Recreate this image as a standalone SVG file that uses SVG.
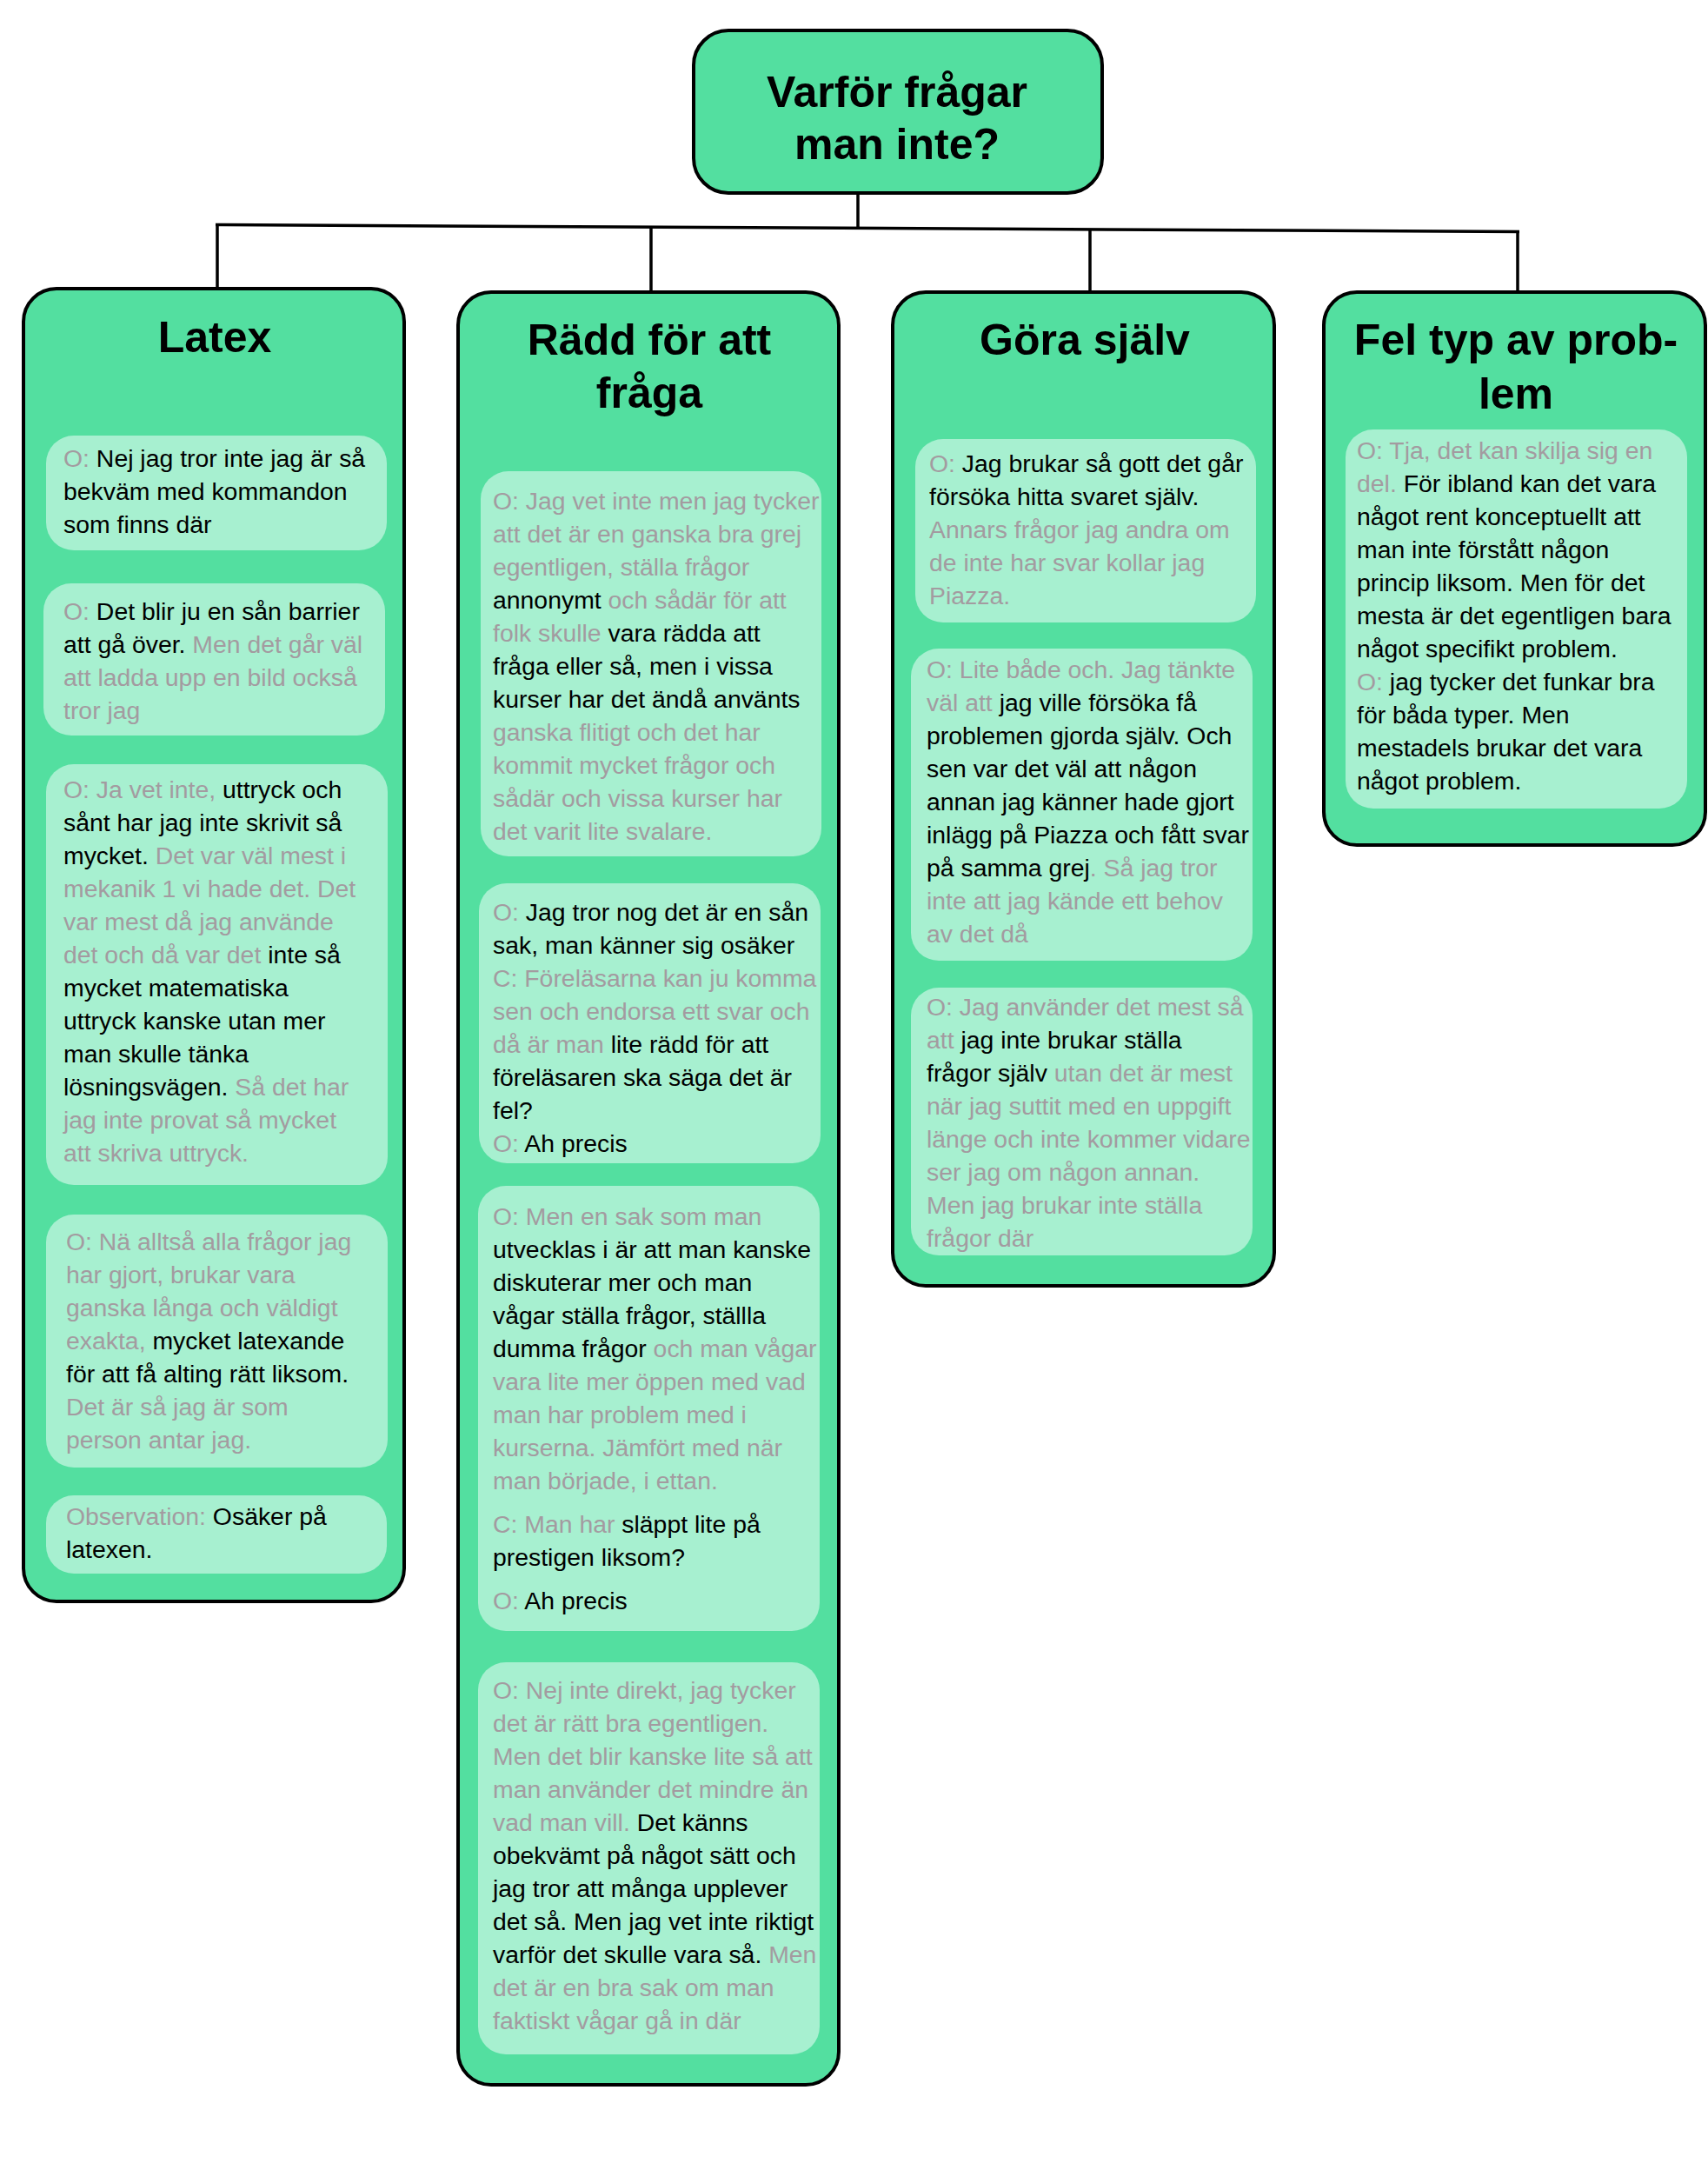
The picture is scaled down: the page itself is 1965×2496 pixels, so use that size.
<svg xmlns="http://www.w3.org/2000/svg" width="1965" height="2496" viewBox="0 0 1965 2496">
<style>
.box{fill:#53DFA0;stroke:#000;stroke-width:4}
.card{fill:#A7F0D0}
.title{font-family:'Liberation Sans',Arial,sans-serif;font-weight:bold;font-size:50px;text-anchor:middle;fill:#000}
.t{font-family:'Liberation Sans',Arial,sans-serif;font-size:28.4px;fill:#000}
.g{fill:#A39BA0}
.conn{stroke:#000;stroke-width:3.5;fill:none}
</style>
<rect width="1965" height="2496" fill="#fff"/>
<g id="connectors">
<line class="conn" x1="987" y1="222" x2="987" y2="262"/>
<line class="conn" x1="248" y1="258.5" x2="1748" y2="266.5"/>
<line class="conn" x1="250" y1="258.5" x2="250" y2="332"/>
<line class="conn" x1="749" y1="261" x2="749" y2="336"/>
<line class="conn" x1="1254" y1="264" x2="1254" y2="336"/>
<line class="conn" x1="1746" y1="266.5" x2="1746" y2="336"/>
</g>
<g id="root">
<rect class="box" x="798" y="35" width="470" height="187" rx="40"/>
<text class="title" x="1032" y="123">Varför frågar</text>
<text class="title" x="1032" y="183">man inte?</text>
</g>
<g id="latex">
<rect class="box" x="27" y="332" width="438" height="1510" rx="38"/>
<text class="title" x="247" y="405">Latex</text>
<rect class="card" x="53" y="501" width="392" height="132" rx="32"/>
<text class="t" x="73" y="537"><tspan class="g">O:</tspan> Nej jag tror inte jag är så</text>
<text class="t" x="73" y="575">bekväm med kommandon</text>
<text class="t" x="73" y="613">som finns där</text>
<rect class="card" x="50" y="671" width="393" height="175" rx="32"/>
<text class="t" x="73" y="713"><tspan class="g">O:</tspan> Det blir ju en sån barrier</text>
<text class="t" x="73" y="751">att gå över.<tspan class="g"> Men det går väl</tspan></text>
<text class="t g" x="73" y="789">att ladda upp en bild också</text>
<text class="t g" x="73" y="827">tror jag</text>
<rect class="card" x="53" y="879" width="393" height="484" rx="32"/>
<text class="t" x="73" y="918"><tspan class="g">O: Ja vet inte,</tspan> uttryck och</text>
<text class="t" x="73" y="956">sånt har jag inte skrivit så</text>
<text class="t" x="73" y="994">mycket.<tspan class="g"> Det var väl mest i</tspan></text>
<text class="t g" x="73" y="1032">mekanik 1 vi hade det. Det</text>
<text class="t g" x="73" y="1070">var mest då jag använde</text>
<text class="t" x="73" y="1108"><tspan class="g">det och då var det</tspan> inte så</text>
<text class="t" x="73" y="1146">mycket matematiska</text>
<text class="t" x="73" y="1184">uttryck kanske utan mer</text>
<text class="t" x="73" y="1222">man skulle tänka</text>
<text class="t" x="73" y="1260">lösningsvägen.<tspan class="g"> Så det har</tspan></text>
<text class="t g" x="73" y="1298">jag inte provat så mycket</text>
<text class="t g" x="73" y="1336">att skriva uttryck.</text>
<rect class="card" x="53" y="1397" width="393" height="291" rx="32"/>
<text class="t g" x="76" y="1438">O: Nä alltså alla frågor jag</text>
<text class="t g" x="76" y="1476">har gjort, brukar vara</text>
<text class="t g" x="76" y="1514">ganska långa och väldigt</text>
<text class="t" x="76" y="1552"><tspan class="g">exakta,</tspan> mycket latexande</text>
<text class="t" x="76" y="1590">för att få alting rätt liksom.</text>
<text class="t g" x="76" y="1628">Det är så jag är som</text>
<text class="t g" x="76" y="1666">person antar jag.</text>
<rect class="card" x="53" y="1720" width="392" height="90" rx="32"/>
<text class="t" x="76" y="1754"><tspan class="g">Observation:</tspan> Osäker på</text>
<text class="t" x="76" y="1792">latexen.</text>
</g>
<g id="radd">
<rect class="box" x="527" y="336" width="438" height="2062" rx="38"/>
<text class="title" x="747" y="408">Rädd för att</text>
<text class="title" x="747" y="469">fråga</text>
<rect class="card" x="553" y="542" width="392" height="443" rx="32"/>
<text class="t g" x="567" y="586">O: Jag vet inte men jag tycker</text>
<text class="t g" x="567" y="624">att det är en ganska bra grej</text>
<text class="t g" x="567" y="662">egentligen, ställa frågor</text>
<text class="t" x="567" y="700">annonymt<tspan class="g"> och sådär för att</tspan></text>
<text class="t" x="567" y="738"><tspan class="g">folk skulle</tspan> vara rädda att</text>
<text class="t" x="567" y="776">fråga eller så, men i vissa</text>
<text class="t" x="567" y="814">kurser har det ändå använts</text>
<text class="t g" x="567" y="852">ganska flitigt och det har</text>
<text class="t g" x="567" y="890">kommit mycket frågor och</text>
<text class="t g" x="567" y="928">sådär och vissa kurser har</text>
<text class="t g" x="567" y="966">det varit lite svalare.</text>
<rect class="card" x="551" y="1016" width="393" height="322" rx="32"/>
<text class="t" x="567" y="1059"><tspan class="g">O:</tspan> Jag tror nog det är en sån</text>
<text class="t" x="567" y="1097">sak, man känner sig osäker</text>
<text class="t g" x="567" y="1135">C: Föreläsarna kan ju komma</text>
<text class="t g" x="567" y="1173">sen och endorsa ett svar och</text>
<text class="t" x="567" y="1211"><tspan class="g">då är man</tspan> lite rädd för att</text>
<text class="t" x="567" y="1249">föreläsaren ska säga det är</text>
<text class="t" x="567" y="1287">fel?</text>
<text class="t" x="567" y="1325"><tspan class="g">O:</tspan> Ah precis</text>
<rect class="card" x="550" y="1364" width="393" height="512" rx="32"/>
<text class="t g" x="567" y="1409">O: Men en sak som man</text>
<text class="t" x="567" y="1447">utvecklas i är att man kanske</text>
<text class="t" x="567" y="1485">diskuterar mer och man</text>
<text class="t" x="567" y="1523">vågar ställa frågor, ställla</text>
<text class="t" x="567" y="1561">dumma frågor<tspan class="g"> och man vågar</tspan></text>
<text class="t g" x="567" y="1599">vara lite mer öppen med vad</text>
<text class="t g" x="567" y="1637">man har problem med i</text>
<text class="t g" x="567" y="1675">kurserna. Jämfört med när</text>
<text class="t g" x="567" y="1713">man började, i ettan.</text>
<text class="t" x="567" y="1763"><tspan class="g">C: Man har</tspan> släppt lite på</text>
<text class="t" x="567" y="1801">prestigen liksom?</text>
<text class="t" x="567" y="1851"><tspan class="g">O:</tspan> Ah precis</text>
<rect class="card" x="550" y="1912" width="393" height="451" rx="32"/>
<text class="t g" x="567" y="1954">O: Nej inte direkt, jag tycker</text>
<text class="t g" x="567" y="1992">det är rätt bra egentligen.</text>
<text class="t g" x="567" y="2030">Men det blir kanske lite så att</text>
<text class="t g" x="567" y="2068">man använder det mindre än</text>
<text class="t" x="567" y="2106"><tspan class="g">vad man vill.</tspan> Det känns</text>
<text class="t" x="567" y="2144">obekvämt på något sätt och</text>
<text class="t" x="567" y="2182">jag tror att många upplever</text>
<text class="t" x="567" y="2220">det så. Men jag vet inte riktigt</text>
<text class="t" x="567" y="2258">varför det skulle vara så.<tspan class="g"> Men</tspan></text>
<text class="t g" x="567" y="2296">det är en bra sak om man</text>
<text class="t g" x="567" y="2334">faktiskt vågar gå in där</text>
</g>
<g id="gora">
<rect class="box" x="1027" y="336" width="439" height="1143" rx="38"/>
<text class="title" x="1248" y="408">Göra själv</text>
<rect class="card" x="1053" y="505" width="392" height="211" rx="32"/>
<text class="t" x="1069" y="543"><tspan class="g">O:</tspan> Jag brukar så gott det går</text>
<text class="t" x="1069" y="581">försöka hitta svaret själv.</text>
<text class="t g" x="1069" y="619">Annars frågor jag andra om</text>
<text class="t g" x="1069" y="657">de inte har svar kollar jag</text>
<text class="t g" x="1069" y="695">Piazza.</text>
<rect class="card" x="1048" y="746" width="393" height="359" rx="32"/>
<text class="t g" x="1066" y="780">O: Lite både och. Jag tänkte</text>
<text class="t" x="1066" y="818"><tspan class="g">väl att</tspan> jag ville försöka få</text>
<text class="t" x="1066" y="856">problemen gjorda själv. Och</text>
<text class="t" x="1066" y="894">sen var det väl att någon</text>
<text class="t" x="1066" y="932">annan jag känner hade gjort</text>
<text class="t" x="1066" y="970">inlägg på Piazza och fått svar</text>
<text class="t" x="1066" y="1008">på samma grej<tspan class="g">. Så jag tror</tspan></text>
<text class="t g" x="1066" y="1046">inte att jag kände ett behov</text>
<text class="t g" x="1066" y="1084">av det då</text>
<rect class="card" x="1048" y="1136" width="393" height="308" rx="32"/>
<text class="t g" x="1066" y="1168">O: Jag använder det mest så</text>
<text class="t" x="1066" y="1206"><tspan class="g">att</tspan> jag inte brukar ställa</text>
<text class="t" x="1066" y="1244">frågor själv<tspan class="g"> utan det är mest</tspan></text>
<text class="t g" x="1066" y="1282">när jag suttit med en uppgift</text>
<text class="t g" x="1066" y="1320">länge och inte kommer vidare</text>
<text class="t g" x="1066" y="1358">ser jag om någon annan.</text>
<text class="t g" x="1066" y="1396">Men jag brukar inte ställa</text>
<text class="t g" x="1066" y="1434">frågor där</text>
</g>
<g id="fel">
<rect class="box" x="1523" y="336" width="439" height="636" rx="38"/>
<text class="title" x="1744" y="408">Fel typ av prob-</text>
<text class="title" x="1744" y="470">lem</text>
<rect class="card" x="1548" y="494" width="393" height="436" rx="32"/>
<text class="t g" x="1561" y="528">O: Tja, det kan skilja sig en</text>
<text class="t" x="1561" y="566"><tspan class="g">del.</tspan> För ibland kan det vara</text>
<text class="t" x="1561" y="604">något rent konceptuellt att</text>
<text class="t" x="1561" y="642">man inte förstått någon</text>
<text class="t" x="1561" y="680">princip liksom. Men för det</text>
<text class="t" x="1561" y="718">mesta är det egentligen bara</text>
<text class="t" x="1561" y="756">något specifikt problem.</text>
<text class="t" x="1561" y="794"><tspan class="g">O:</tspan> jag tycker det funkar bra</text>
<text class="t" x="1561" y="832">för båda typer. Men</text>
<text class="t" x="1561" y="870">mestadels brukar det vara</text>
<text class="t" x="1561" y="908">något problem.</text>
</g>
</svg>
